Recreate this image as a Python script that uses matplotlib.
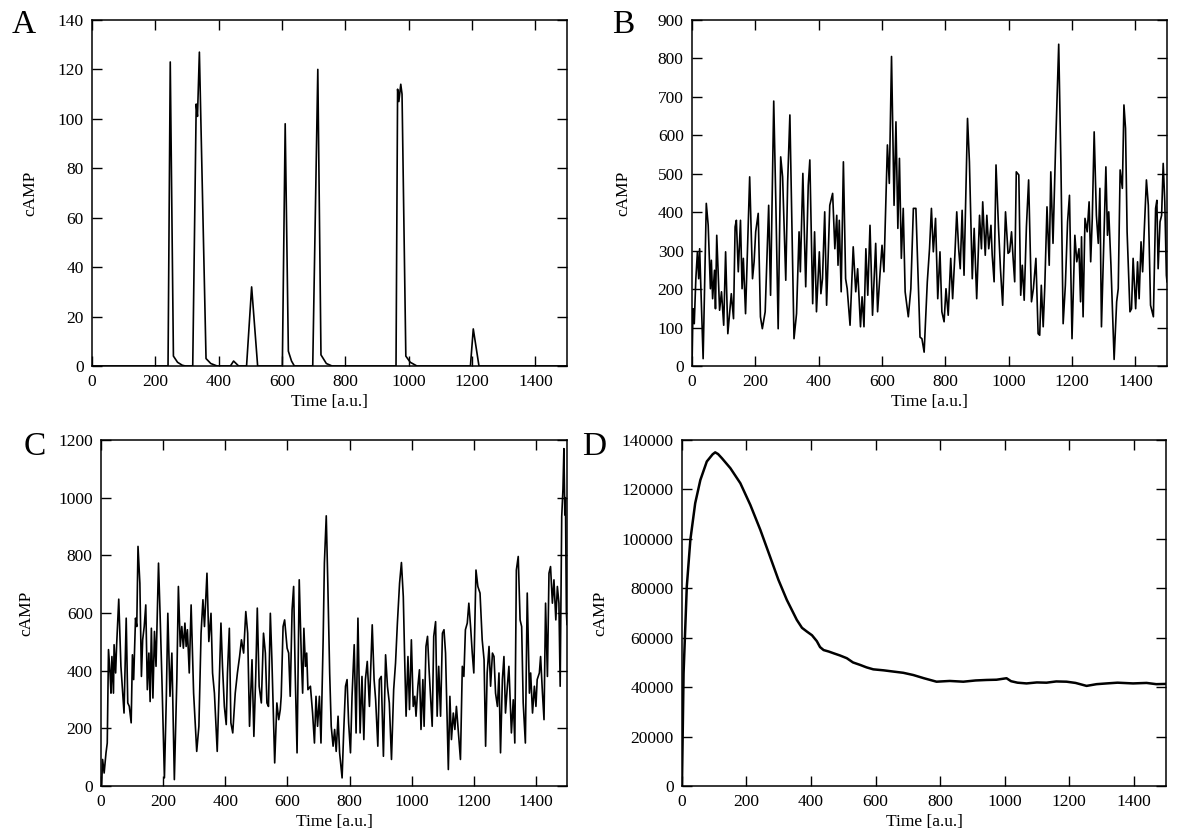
import matplotlib
matplotlib.use('Agg')
import matplotlib.pyplot as plt
import numpy as np

plt.rcParams['font.family'] = ['Liberation Serif', 'DejaVu Serif']

# panel A - sparse cAMP spikes
a_time = [0, 240, 247, 257, 270, 285, 295, 318, 329, 333, 339, 360, 375, 395,
          437, 447, 463, 488, 504, 523, 601, 610, 620, 630, 639, 697, 713, 723,
          740, 758, 960, 965, 969, 975, 979, 991, 1005, 1026, 1195, 1204, 1222, 1500]
a_camp = [0, 0, 123, 4, 1.5, 0.3, 0, 0, 106, 101, 127, 3, 1, 0,
          0, 2, 0, 0, 32, 0, 0, 98, 6, 2, 0, 0, 120, 4.5,
          1, 0, 0, 112, 107, 114, 110, 4, 1.5, 0, 0, 15, 0, 0]

# panel B - noisy oscillations
b_time = [0, 3, 7, 12, 17, 21, 24, 35, 45, 51, 58, 61, 65, 71, 74, 78, 87, 93, 100,
          106, 113, 119, 124, 131, 136, 140, 146, 153, 158, 162, 169, 182, 191, 196,
          201, 209, 216, 222, 231, 242, 248, 258, 265, 272, 280, 286, 296, 302, 309,
          315, 322, 330, 338, 342, 350, 359, 367, 372, 381, 387, 393, 402, 407, 412,
          419, 425, 435, 444, 451, 457, 461, 465, 471, 478, 485, 490, 499, 509, 517,
          523, 532, 537, 543, 549, 555, 562, 570, 580, 586, 594, 600, 606, 617, 623,
          630, 638, 644, 650, 655, 661, 667, 673, 683, 691, 699, 707, 715, 720, 726,
          733, 743, 750, 756, 762, 769, 776, 783, 789, 796, 802, 809, 817, 823, 830,
          836, 842, 847, 853, 859, 870, 876, 885, 891, 899, 908, 914, 918, 926, 931,
          937, 944, 948, 954, 960, 968, 974, 981, 990, 998, 1003, 1009, 1014, 1019,
          1024, 1032, 1038, 1043, 1049, 1056, 1063, 1072, 1078, 1086, 1093, 1098,
          1103, 1109, 1114, 1121, 1128, 1133, 1140, 1148, 1158, 1165, 1172, 1179,
          1186, 1192, 1200, 1209, 1215, 1222, 1227, 1230, 1235, 1241, 1248, 1254,
          1259, 1264, 1270, 1277, 1283, 1288, 1293, 1301, 1307, 1312, 1316, 1323,
          1333, 1341, 1346, 1352, 1359, 1364, 1369, 1374, 1383, 1388, 1393, 1401,
          1407, 1412, 1418, 1423, 1428, 1435, 1441, 1448, 1457, 1464, 1468, 1472,
          1478, 1483, 1488, 1493, 1498, 1500]
b_camp = [0, 149, 110, 227, 297, 227, 305, 19, 423, 366, 201, 275, 175, 249, 149, 340,
          145, 193, 106, 297, 84, 141, 188, 123, 362, 379, 245, 379, 201, 280, 136,
          492, 227, 271, 349, 397, 128, 97, 141, 418, 184, 689, 410, 97, 544, 492,
          223, 479, 653, 379, 71, 136, 349, 245, 501, 206, 470, 536, 162, 349, 141,
          297, 188, 227, 401, 158, 418, 449, 305, 392, 262, 379, 193, 531, 227, 201,
          106, 310, 193, 253, 102, 180, 102, 305, 184, 366, 132, 319, 141, 245, 314,
          245, 575, 475, 805, 418, 635, 358, 540, 280, 410, 193, 128, 201, 410, 410,
          206, 75, 71, 36, 219, 305, 410, 297, 384, 175, 297, 141, 115, 201, 132,
          280, 175, 288, 401, 305, 253, 405, 236, 644, 531, 227, 358, 175, 392, 305,
          427, 288, 392, 305, 366, 288, 219, 523, 358, 253, 158, 401, 293, 297, 349,
          280, 219, 505, 497, 184, 262, 171, 362, 484, 167, 201, 280, 84, 80, 210,
          102, 206, 414, 262, 505, 319, 566, 837, 523, 110, 210, 375, 444, 71, 340,
          271, 305, 167, 336, 128, 384, 349, 427, 271, 384, 609, 392, 319, 462, 102,
          340, 518, 340, 401, 262, 17, 167, 201, 510, 462, 679, 618, 349, 141, 149,
          280, 149, 271, 175, 323, 245, 349, 484, 418, 158, 128, 410, 431, 253, 375,
          392, 527, 427, 236, 219]

# panel C - noisy oscillations, larger amplitude
c_time = [0, 2, 5, 10, 16, 20, 24, 29, 32, 35, 40, 42, 47, 50, 57, 64, 74, 81, 86, 91,
          97, 101, 105, 111, 115, 119, 125, 130, 134, 139, 144, 149, 154, 158, 162,
          167, 172, 177, 185, 190, 196, 204, 210, 215, 222, 228, 236, 244, 249, 255,
          260, 265, 270, 274, 278, 284, 290, 298, 308, 315, 322, 328, 333, 341, 347,
          354, 359, 365, 374, 379, 386, 391, 397, 403, 407, 413, 418, 424, 432, 439,
          446, 452, 459, 466, 472, 478, 486, 492, 498, 503, 509, 516, 523, 529, 534,
          539, 545, 550, 559, 566, 572, 577, 580, 586, 591, 599, 604, 609, 615, 620,
          625, 631, 638, 645, 649, 653, 658, 662, 666, 674, 681, 687, 692, 697, 703,
          708, 715, 719, 725, 730, 736, 741, 747, 752, 757, 763, 768, 776, 781, 787,
          792, 797, 803, 808, 815, 821, 827, 834, 840, 846, 851, 857, 864, 873, 879,
          884, 891, 896, 902, 909, 916, 922, 928, 935, 942, 948, 954, 961, 967, 973,
          978, 982, 988, 993, 999, 1005, 1010, 1014, 1020, 1025, 1030, 1036, 1040,
          1046, 1051, 1056, 1066, 1071, 1077, 1082, 1087, 1093, 1099, 1104, 1109,
          1118, 1123, 1128, 1134, 1139, 1144, 1152, 1157, 1163, 1168, 1173, 1179,
          1184, 1190, 1195, 1200, 1207, 1213, 1220, 1227, 1233, 1238, 1243, 1249,
          1254, 1260, 1265, 1270, 1276, 1281, 1286, 1292, 1297, 1302, 1308, 1313,
          1321, 1327, 1332, 1337, 1343, 1349, 1354, 1359, 1366, 1372, 1379, 1383,
          1389, 1395, 1400, 1404, 1411, 1415, 1421, 1426, 1431, 1437, 1442, 1447,
          1453, 1458, 1464, 1469, 1474, 1478, 1483, 1487, 1490, 1493, 1495, 1498, 1500]
c_camp = [0, 5, 92, 45, 115, 149, 473, 392, 322, 449, 322, 490, 392, 484, 648, 415, 253,
          582, 288, 276, 219, 455, 369, 582, 553, 831, 703, 380, 507, 553, 628, 334,
          461, 293, 547, 305, 536, 415, 773, 599, 369, 28, 299, 599, 311, 461, 22,
          369, 692, 484, 553, 478, 565, 484, 542, 392, 628, 322, 120, 207, 530, 646,
          553, 738, 501, 599, 392, 322, 120, 299, 565, 415, 276, 213, 392, 547, 219,
          184, 322, 392, 449, 507, 461, 605, 530, 207, 438, 172, 380, 617, 346, 288,
          530, 461, 288, 276, 599, 438, 80, 288, 230, 265, 311, 553, 576, 478, 461,
          311, 611, 692, 392, 115, 715, 438, 322, 547, 415, 461, 334, 346, 253, 149,
          311, 207, 311, 149, 507, 773, 937, 703, 392, 207, 138, 196, 120, 242, 115,
          28, 184, 346, 369, 219, 115, 311, 490, 184, 582, 184, 380, 161, 369, 432,
          276, 559, 369, 299, 138, 369, 380, 103, 455, 346, 288, 92, 334, 426, 565,
          703, 775, 657, 415, 242, 449, 265, 507, 276, 311, 242, 346, 403, 196, 369,
          207, 484, 519, 403, 207, 519, 570, 242, 415, 242, 530, 542, 461, 57, 311,
          161, 253, 196, 276, 161, 92, 415, 380, 542, 565, 634, 547, 461, 392, 749,
          692, 669, 507, 438, 138, 392, 484, 346, 461, 449, 322, 276, 392, 115, 369,
          449, 253, 346, 415, 184, 299, 149, 749, 796, 576, 553, 288, 149, 669, 322,
          392, 253, 346, 276, 369, 392, 449, 322, 230, 634, 380, 738, 761, 634, 715,
          576, 692, 634, 346, 934, 1030, 1170, 940, 1000, 600, 560]

# panel D - single large transient then plateau
d_time = [0, 5, 15, 26, 41, 57, 77, 95, 103, 112, 124, 150, 181, 212, 243, 273, 299,
          325, 356, 372, 387, 403, 418, 428, 439, 455, 470, 490, 511, 530, 552, 572,
          593, 625, 655, 686, 717, 750, 789, 830, 872, 910, 944, 975, 1006, 1020,
          1040, 1068, 1100, 1130, 1160, 1192, 1220, 1254, 1285, 1316, 1350, 1398,
          1440, 1470, 1500]
d_camp = [0, 45600, 80700, 99600, 114400, 123800, 131300, 134200, 135000, 134300,
          132600, 128600, 122500, 113700, 103600, 92800, 83400, 75300, 67200, 64000,
          62500, 61000, 58600, 56200, 55000, 54400, 53700, 52800, 51700, 50000, 49000,
          48000, 47200, 46800, 46300, 45800, 44900, 43600, 42200, 42500, 42200, 42700,
          42900, 43000, 43600, 42400, 41800, 41500, 41900, 41800, 42300, 42200, 41700,
          40500, 41200, 41500, 41800, 41500, 41700, 41200, 41300]

x_ticks = np.arange(0, 1500, 200)


def style_axis(ax, ymax, ystep, label_x):
    ax.set_xlim(0, 1500)
    ax.set_ylim(0, ymax)
    ax.set_xticks(x_ticks)
    ax.set_yticks(np.arange(0, ymax + 1, ystep))
    ax.tick_params(direction='in', top=True, right=True, length=7, width=1,
                   labelsize=12.5, pad=6)
    for s in ax.spines.values():
        s.set_linewidth(1.1)
    ax.set_xlabel('Time [a.u.]', fontsize=12.5, labelpad=3)
    ax.set_ylabel('cAMP', fontsize=12.5)
    ax.yaxis.set_label_coords(label_x, 0.5)


fig = plt.figure(figsize=(12, 8.4), dpi=100)

axA = fig.add_axes([0.0767, 0.5643, 0.3958, 0.4119])
axA.plot(a_time, a_camp, color='black', lw=1.2)
style_axis(axA, 140, 20, -0.114)

axB = fig.add_axes([0.5767, 0.5643, 0.3958, 0.4119])
axB.plot(b_time, b_camp, color='black', lw=1.2)
style_axis(axB, 900, 100, -0.128)

axC = fig.add_axes([0.0842, 0.0643, 0.3883, 0.4119])
axC.plot(c_time, c_camp, color='black', lw=1.2)
style_axis(axC, 1200, 200, -0.144)

axD = fig.add_axes([0.5683, 0.0643, 0.4033, 0.4119])
axD.plot(d_time, d_camp, color='black', lw=1.8)
style_axis(axD, 140000, 20000, -0.153)

# panel letters
fig.text(0.010, 0.989, 'A', fontsize=24, va='top')
fig.text(0.510, 0.989, 'B', fontsize=24, va='top')
fig.text(0.020, 0.486, 'C', fontsize=24, va='top')
fig.text(0.485, 0.486, 'D', fontsize=24, va='top')

fig.savefig('out.png', dpi=100)
